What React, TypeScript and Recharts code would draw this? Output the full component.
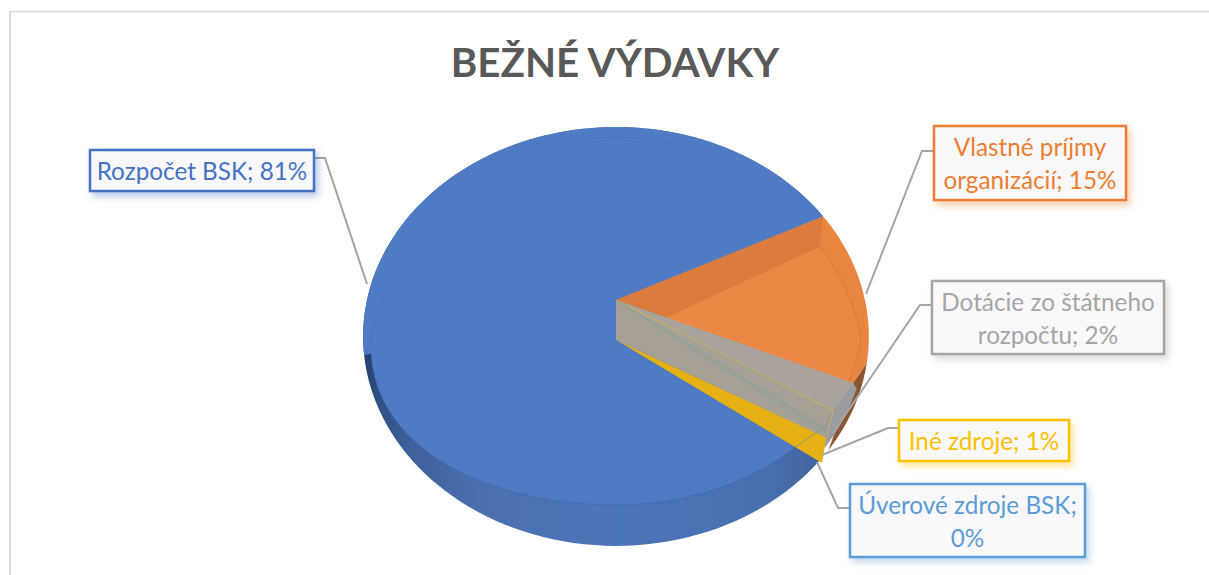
import { Pie, PieChart } from "recharts";

const SOURCES = [
  "Rozpočet BSK",
  "Vlastné príjmy organizácií",
  "Dotácie zo štátneho rozpočtu",
  "Iné zdroje",
  "Úverové zdroje BSK",
];
const VALUES = [80.5, 14.5, 2.4, 1.4, 0.49];
const COLORS = ["#4472C4", "#ED7D31", "#A5A5A5", "#FFC000", "#5B9BD5"];
const LABEL_LINES = [
  ["Rozpočet BSK; 81%"],
  ["Vlastné príjmy", "organizácií; 15%"],
  ["Dotácie zo štátneho", "rozpočtu; 2%"],
  ["Iné zdroje; 1%"],
  ["Úverové zdroje BSK;", "0%"],
];

const pieData = SOURCES.map((name, i) => ({ name, value: VALUES[i], fill: COLORS[i] }));

// box and leader line of every label, as placed in the original
const LABEL_BOXES = [
  { x: 90, y: 150, w: 224, h: 41, leader: "314,158 325,158 367,284" },
  { x: 934, y: 126, w: 192, h: 74, leader: "934,151 922,151 866,294" },
  { x: 932, y: 281, w: 232, h: 73, leader: "932,305 920,305 833,433" },
  { x: 899, y: 420, w: 170, h: 41, leader: "899,428 888,428 822,455" },
  { x: 850, y: 484, w: 235, h: 73, leader: "850,508 838,508 817,462" },
];

const CHART_W = 1209;
const CHART_H = 575;
const CENTER_X = 616;
const CENTER_Y = 320;
const RADIUS = 249;

// the pie is seen in perspective: two disks with their own homography
type Disk = { y0: number; r: number; a: number; p: number; far?: number };
const TOP: Disk = { y0: CENTER_Y - 20, r: RADIUS, a: 203.1, p: -0.174 };
const LOW: Disk = { y0: CENTER_Y + 20, r: RADIUS - 4, a: 182, p: 0.103, far: 0.1 };
const SKEW = 3; // inner edges lean a little in Excel's 3D view
const BLUE_CUT = -2.4;
const UPPER_BAND_END = -165;
const INNER_RIM = 0.968;
const CORNER = 0.94;

function pt(d: Disk, deg: number, k = 1) {
  const rad = (deg * Math.PI) / 180;
  const u = k * Math.cos(rad);
  const v = -k * Math.sin(rad);
  const w = 1 + d.p * v;
  let wx = w;
  if (d.far && v < 0) wx = 1 - d.far * v;
  if (d.far && v > 0 && u < 0) wx = 1 - 0.03 * v;
  return { x: CENTER_X + (d.r * u) / wx, y: d.y0 + (d.a * v) / w };
}

const fmt = (pts: { x: number; y: number }[]) =>
  "M" + pts.map((q) => `${q.x.toFixed(1)},${q.y.toFixed(1)}`).join("L") + "Z";

function arc(d: Disk, from: number, to: number, k = 1) {
  const n = Math.max(2, Math.ceil(Math.abs(to - from) / 2));
  return Array.from({ length: n + 1 }, (_, i) => pt(d, from + ((to - from) * i) / n, k));
}

const apex = (d: Disk) => ({ x: CENTER_X, y: d.y0 });
const sector = (d: Disk, from: number, to: number, k = 1) => fmt([apex(d), ...arc(d, from, to, k)]);
const poly = (pts: { x: number; y: number }[]) => pts.map((q) => `${q.x.toFixed(1)},${q.y.toFixed(1)}`).join(" ");

function SliceShape(props: any) {
  const index = SOURCES.indexOf(props.name ?? props.payload?.name);
  const s: number = props.startAngle;
  const e: number = props.endAngle;

  if (index === 0) {
    return (
      <g>
        <path d={sector(TOP, s + BLUE_CUT, e)} fill="url(#blueWall)" />
        <path d={sector(TOP, UPPER_BAND_END, e)} fill="#4F7BC4" />
        <path d={sector(LOW, s + SKEW, e + SKEW)} fill="#4F7BC4" />
        <polyline points={poly(arc(LOW, s + SKEW, -172))} fill="none" stroke="#3F68AE" strokeWidth={0.7} />
        <polyline
          points={poly(arc(LOW, -172, e + SKEW))}
          fill="none"
          stroke="#3F68AE"
          strokeOpacity={0.45}
          strokeWidth={0.7}
        />
      </g>
    );
  }
  if (index === 1) {
    const clipId = "orangeClip";
    const topPath = fmt([apex(TOP), ...arc(TOP, s, e + SKEW + 6), pt(TOP, e + SKEW, INNER_RIM)]);
    return (
      <g>
        <defs>
          <clipPath id={clipId}>
            <path d={topPath} />
          </clipPath>
        </defs>
        <path d={topPath} fill="#E9853F" />
        <g clipPath={`url(#${clipId})`}>
          <path d={sector(LOW, s + SKEW, e + SKEW - 12)} fill="#EC8744" stroke="#D2722F" strokeWidth={0.6} />
          <path d={fmt([apex(TOP), pt(TOP, s), pt(LOW, s + SKEW), apex(LOW)])} fill="#DB7C3E" />
        </g>
      </g>
    );
  }
  if (index === 2) {
    const top0 = s + SKEW;
    const top1 = e + SKEW;
    const inner = pt(TOP, top0, INNER_RIM);
    return (
      <g>
        <path d={fmt([inner, ...arc(TOP, top0 + 6, top1 - 9)])} fill="#8A5630" />
        <path d={fmt([apex(TOP), inner, ...arc(TOP, top0 - 1, top1 - 12.4, 0.985)])} fill="#9B9BA0" />
        <path d={fmt([apex(TOP), inner, pt(TOP, top1, CORNER)])} fill="#A9A39B" />
      </g>
    );
  }
  if (index === 3) {
    const top0 = s + SKEW;
    const top1 = e + SKEW;
    const lowEdge = pt(LOW, top0, 1.07);
    const corner0 = pt(TOP, top0, CORNER);
    const corner1 = pt(TOP, top1, CORNER);
    return (
      <g>
        <path d={fmt([apex(LOW), lowEdge, pt(LOW, top1 - 1.8, 1.16)])} fill="#E6B012" />
        <path d={fmt([apex(TOP), corner0, corner1, lowEdge, apex(LOW)])} fill="#A6A194" />
        <polyline points={poly([apex(TOP), corner0, lowEdge])} fill="none" stroke="#C9B45A" strokeWidth={1} />
        <polyline points={poly([apex(TOP), corner1, lowEdge])} fill="none" stroke="#7FA596" strokeWidth={1} />
        <polyline points={poly([pt(LOW, top1 - 1.8), corner1])} fill="none" stroke="#6F9A93" strokeWidth={0.8} />
      </g>
    );
  }
  return <path d={sector(TOP, s + SKEW, e + SKEW, CORNER)} fill={COLORS[4]} fillOpacity={0.08} />;
}

function renderLabel(props: any) {
  const i: number = props.index;
  const box = LABEL_BOXES[i];
  const lines = LABEL_LINES[i];
  const color = COLORS[i];
  const lineGap = 33;
  const midY = box.y + box.h / 2;
  return (
    <g key={SOURCES[i]}>
      <polyline points={box.leader} fill="none" stroke="#A5A5A5" strokeWidth={2} />
      <rect
        x={box.x}
        y={box.y}
        width={box.w}
        height={box.h}
        fill="#F9F9FB"
        stroke={color}
        strokeWidth={2.5}
        filter={`url(#labelShadow${i})`}
      />
      {lines.map((line, n) => (
        <text
          key={line}
          x={box.x + box.w / 2}
          y={midY + (n - (lines.length - 1) / 2) * lineGap}
          textAnchor="middle"
          dominantBaseline="central"
          fontFamily="Lato, 'Open Sans', sans-serif"
          fontSize={24.3}
          fill={color}
        >
          {line}
        </text>
      ))}
    </g>
  );
}

export default function App() {
  return (
    <div style={{ position: "absolute", left: 0, top: 0, width: CHART_W, height: CHART_H, overflow: "hidden" }}>
      <PieChart width={CHART_W} height={CHART_H} margin={{ top: 0, right: 0, bottom: 0, left: 0 }}>
        <defs>
          <linearGradient id="blueWall" gradientUnits="userSpaceOnUse" x1={365} y1={0} x2={825} y2={0}>
            <stop offset="0" stopColor="#24406F" />
            <stop offset="0.03" stopColor="#2F4F85" />
            <stop offset="0.1" stopColor="#3F619C" />
            <stop offset="0.25" stopColor="#4A6FAE" />
            <stop offset="0.55" stopColor="#4C76BA" />
            <stop offset="0.85" stopColor="#4870B0" />
            <stop offset="1" stopColor="#3F659F" />
          </linearGradient>
          {COLORS.map((c, i) => (
            <filter key={c} id={`labelShadow${i}`} x="-15%" y="-30%" width="130%" height="170%">
              <feDropShadow dx={3} dy={4} stdDeviation={3.5} floodColor={c} floodOpacity={0.4} />
            </filter>
          ))}
        </defs>
        <line x1={9} y1={11.5} x2={1209} y2={11.5} stroke="#D9D9D9" strokeWidth={1.5} />
        <line x1={10} y1={11} x2={10} y2={575} stroke="#D9D9D9" strokeWidth={2} />
        <text
          x={615}
          y={77}
          textAnchor="middle"
          fontFamily="Lato, 'Open Sans', sans-serif"
          fontWeight={700}
          fontSize={40.4}
          fill="#595959"
        >
          BEŽNÉ VÝDAVKY
        </text>
        <Pie
          data={pieData}
          dataKey="value"
          nameKey="name"
          cx={CENTER_X}
          cy={CENTER_Y}
          outerRadius={RADIUS}
          startAngle={-41.8}
          endAngle={-401.8}
          stroke="none"
          shape={SliceShape}
          label={renderLabel}
          labelLine={false}
          isAnimationActive={false}
        />
      </PieChart>
    </div>
  );
}
